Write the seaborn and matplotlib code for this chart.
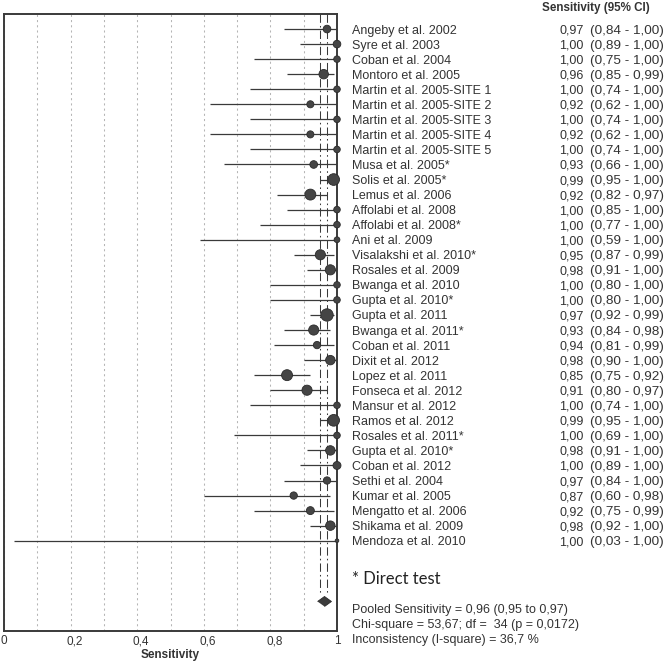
import numpy as np
import pandas as pd
import seaborn as sns
import matplotlib.pyplot as plt
import matplotlib.transforms as mtransforms

# study data
studies = [
    "Angeby et al. 2002", "Syre et al. 2003", "Coban et al. 2004", "Montoro et al. 2005",
    "Martin et al. 2005-SITE 1", "Martin et al. 2005-SITE 2", "Martin et al. 2005-SITE 3",
    "Martin et al. 2005-SITE 4", "Martin et al. 2005-SITE 5", "Musa et al. 2005*",
    "Solis et al. 2005*", "Lemus et al. 2006", "Affolabi et al. 2008", "Affolabi et al. 2008*",
    "Ani et al. 2009", "Visalakshi et al. 2010*", "Rosales et al. 2009", "Bwanga et al. 2010",
    "Gupta et al. 2010*", "Gupta et al. 2011", "Bwanga et al. 2011*", "Coban et al. 2011",
    "Dixit et al. 2012", "Lopez et al. 2011", "Fonseca et al. 2012", "Mansur et al. 2012",
    "Ramos et al. 2012", "Rosales et al. 2011*", "Gupta et al. 2010*", "Coban et al. 2012",
    "Sethi et al. 2004", "Kumar et al. 2005", "Mengatto et al. 2006", "Shikama et al. 2009",
    "Mendoza et al. 2010",
]
sens = [0.97, 1.00, 1.00, 0.96, 1.00, 0.92, 1.00, 0.92, 1.00, 0.93,
        0.99, 0.92, 1.00, 1.00, 1.00, 0.95, 0.98, 1.00, 1.00, 0.97,
        0.93, 0.94, 0.98, 0.85, 0.91, 1.00, 0.99, 1.00, 0.98, 1.00,
        0.97, 0.87, 0.92, 0.98, 1.00]
ci_low = [0.84, 0.89, 0.75, 0.85, 0.74, 0.62, 0.74, 0.62, 0.74, 0.66,
          0.95, 0.82, 0.85, 0.77, 0.59, 0.87, 0.91, 0.80, 0.80, 0.92,
          0.84, 0.81, 0.90, 0.75, 0.80, 0.74, 0.95, 0.69, 0.91, 0.89,
          0.84, 0.60, 0.75, 0.92, 0.03]
ci_high = [1.00, 1.00, 1.00, 0.99, 1.00, 1.00, 1.00, 1.00, 1.00, 1.00,
           1.00, 0.97, 1.00, 1.00, 1.00, 0.99, 1.00, 1.00, 1.00, 0.99,
           0.98, 0.99, 1.00, 0.92, 0.97, 1.00, 1.00, 1.00, 1.00, 1.00,
           1.00, 0.98, 0.99, 1.00, 1.00]
# relative study weights (marker area)
weights = [4.9, 4.9, 3.6, 7.5, 3.6, 4.2, 3.6, 4.2, 3.6, 4.9,
           11.4, 10.0, 3.6, 3.6, 2.8, 8.6, 8.6, 3.6, 3.6, 12.8,
           8.6, 4.5, 7.5, 10.0, 8.6, 3.6, 11.4, 3.6, 7.5, 5.3,
           4.5, 4.5, 5.3, 7.5, 1.1]

pooled = 0.96
pooled_low = 0.95
pooled_high = 0.97
stats_lines = [
    "Pooled Sensitivity = 0,96 (0,95 to 0,97)",
    "Chi-square = 53,67; df =  34 (p = 0,0172)",
    "Inconsistency (I-square) = 36,7 %",
]
tick_vals = [0, 0.2, 0.4, 0.6, 0.8, 1]
tick_labels = ["0", "0,2", "0,4", "0,6", "0,8", "1"]

df = pd.DataFrame({"study": studies, "sens": sens, "lo": ci_low, "hi": ci_high, "w": weights})
df["row"] = np.arange(len(df))


def fmt(v):
    return f"{v:.2f}".replace(".", ",")


sns.set_style("white")
plt.rcParams["font.family"] = ["Liberation Sans", "DejaVu Sans"]
ink = "#333333"

fig = plt.figure(figsize=(6.66, 6.63), dpi=100)
ax = fig.add_axes([4 / 666, 1 - 631 / 663, 333 / 666, 617 / 663])

# CI bars
ax.hlines(df["row"], df["lo"], df["hi"], color="#3a3a3a", lw=0.9, zorder=3)

# point estimates, area ~ weight
k = 6.2
sns.scatterplot(data=df, x="sens", y="row", size="w",
                sizes=(min(weights) * k, max(weights) * k),
                color="#454545", edgecolor="#2a2a2a", linewidth=0.6,
                legend=False, clip_on=False, zorder=4, ax=ax)

# pooled CI lines and diamond
n = len(df)
for xv in (pooled_low, pooled_high):
    ax.plot([xv, xv], [-1, n + 2.6], color="#3a3a3a", lw=0.75,
            dashes=(8, 3, 1.5, 3), zorder=2)
diamond = [(-1, 0), (0, 0.72), (1, 0), (0, -0.72)]
ax.scatter([pooled], [n + 3], marker=diamond, s=100, color="#3c3c3c",
           edgecolor="#2a2a2a", linewidth=0.6, zorder=4, clip_on=False)

ax.set_xlim(0, 1)
ax.set_ylim(n + 5, -1)
ax.set_yticks([])
ax.set_xticks(tick_vals)
ax.set_xticklabels(tick_labels, fontsize=8.5, color=ink)
ax.set_xticks(np.arange(0.1, 1.0, 0.2), minor=True)
ax.tick_params(axis="x", which="both", length=0, pad=3)
ax.grid(True, axis="x", which="both", color="#b5b5b5", lw=0.75, linestyle=(0, (2, 3)))
ax.set_axisbelow(True)
ax.set_xlabel("Sensitivity", fontsize=8.5, fontweight="bold", color=ink, labelpad=1.5)
ax.set_ylabel("")
for sp in ax.spines.values():
    sp.set_visible(True)
    sp.set_color("#3a3a3a")
    sp.set_linewidth(1.4)

# shift inner tick labels a little right like the reference
for lab in ax.get_xticklabels()[1:-1]:
    lab.set_transform(lab.get_transform() + mtransforms.ScaledTranslation(4 / 100, 0, fig.dpi_scale_trans))

# text columns
tr = mtransforms.blended_transform_factory(fig.transFigure, ax.transData)
x_name = 351.5 / 666
x_val = 583.5 / 666
x_ci = 589.5 / 666
for _, r in df.iterrows():
    ax.text(x_name, r["row"], r["study"], transform=tr, fontsize=9, color=ink,
            va="center_baseline", ha="left", clip_on=False)
    ax.text(x_val, r["row"], fmt(r["sens"]), transform=tr, fontsize=9, color=ink,
            va="center_baseline", ha="right", clip_on=False)
    ax.text(x_ci, r["row"], f"({fmt(r['lo'])} - {fmt(r['hi'])})", transform=tr,
            fontsize=9.7, color=ink, va="center_baseline", ha="left", clip_on=False)

ax.text(596 / 666, -1.5, "Sensitivity (95% CI)", transform=tr, fontsize=8.4,
        fontweight="bold", color=ink, ha="center", va="center_baseline", clip_on=False)
ax.text(x_name, n + 1.47, "* Direct test", transform=tr, fontsize=12,
        family=["Lato", "DejaVu Sans"], color="#222222", ha="left",
        va="center_baseline", clip_on=False)
for i, line in enumerate(stats_lines):
    ax.text(x_name, n + 3.5 + i * 1.01, line, transform=tr, fontsize=9, color=ink,
            ha="left", va="center_baseline", clip_on=False)

fig.savefig("out.png", dpi=100)
